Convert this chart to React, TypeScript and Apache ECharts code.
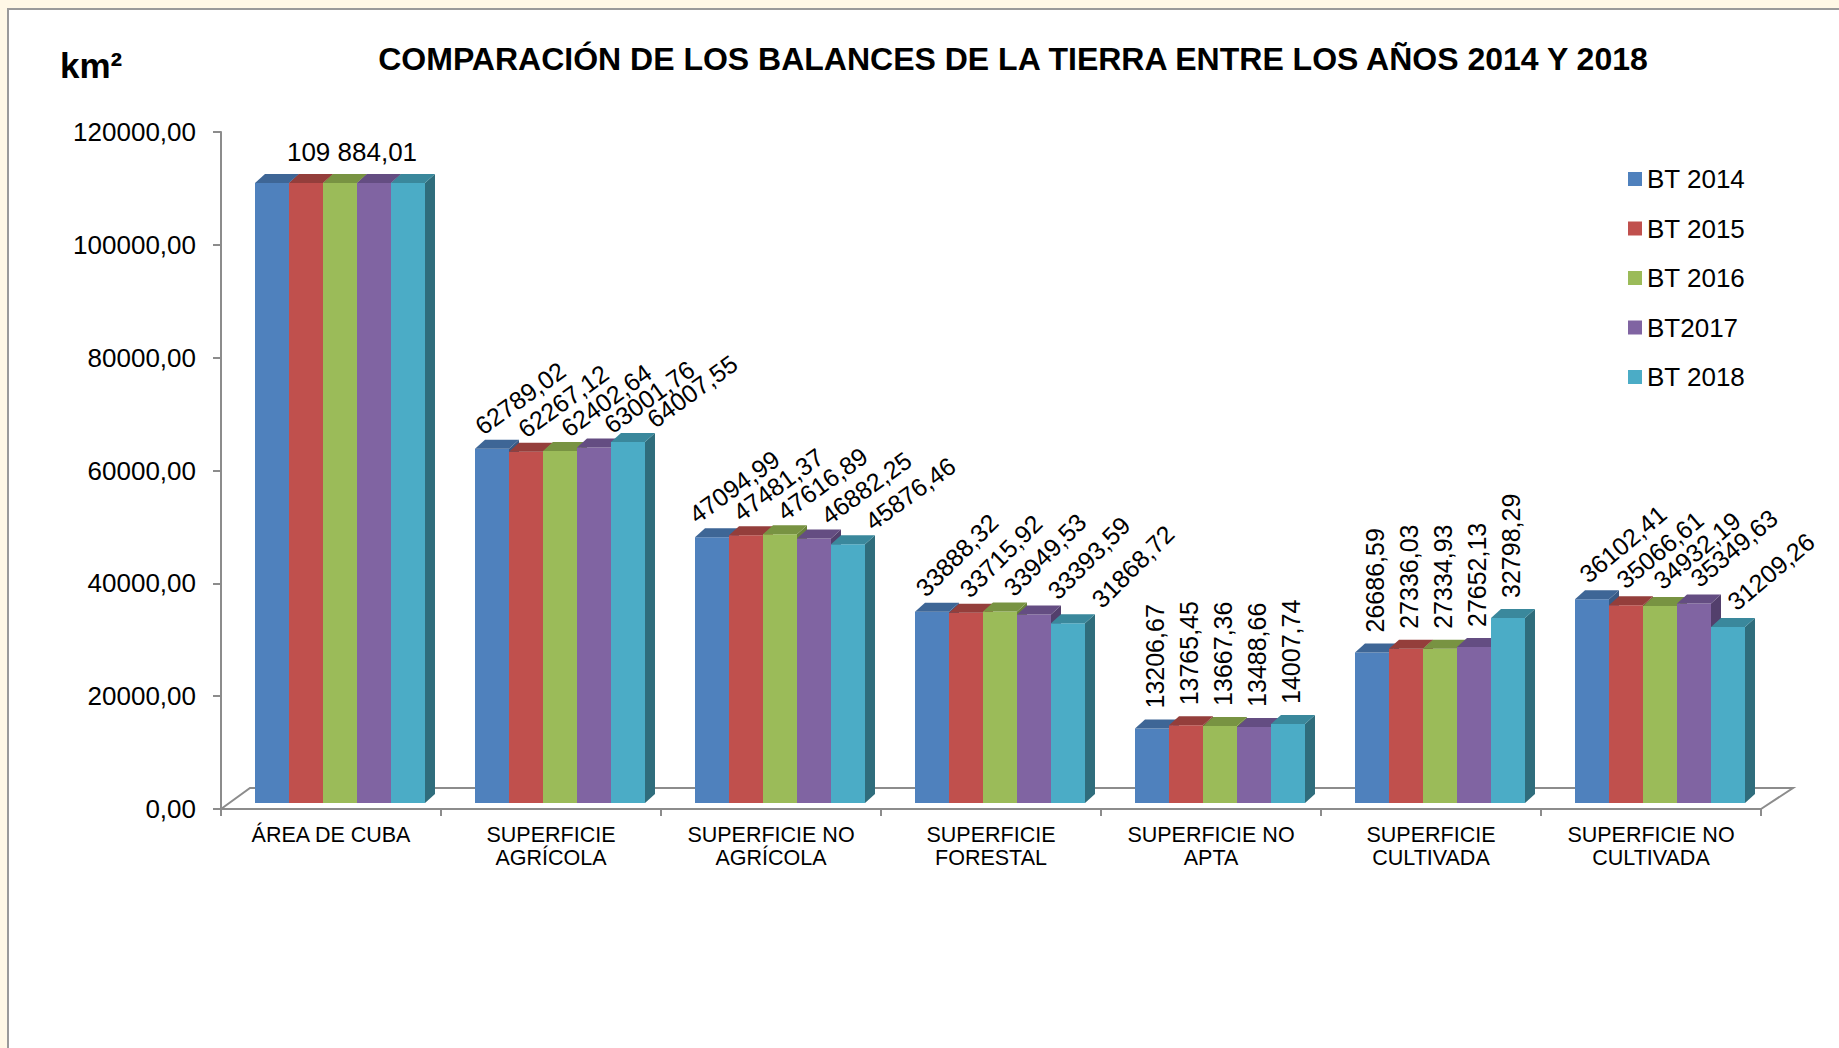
import React, { useEffect, useRef } from 'react';
import * as echarts from 'echarts';

const categories = [
  'ÁREA DE CUBA',
  'SUPERFICIE\nAGRÍCOLA',
  'SUPERFICIE NO\nAGRÍCOLA',
  'SUPERFICIE\nFORESTAL',
  'SUPERFICIE NO\nAPTA',
  'SUPERFICIE\nCULTIVADA',
  'SUPERFICIE NO\nCULTIVADA',
];
const seriesNames = ['BT 2014', 'BT 2015', 'BT 2016', 'BT2017', 'BT 2018'];
const bt2014 = [109884.01, 62789.02, 47094.99, 33888.32, 13206.67, 26686.59, 36102.41];
const bt2015 = [109884.01, 62267.12, 47481.37, 33715.92, 13765.45, 27336.03, 35066.61];
const bt2016 = [109884.01, 62402.64, 47616.89, 33949.53, 13667.36, 27334.93, 34932.19];
const bt2017 = [109884.01, 63001.76, 46882.25, 33393.59, 13488.66, 27652.13, 35349.63];
const bt2018 = [109884.01, 64007.55, 45876.46, 31868.72, 14007.74, 32798.29, 31209.26];
const seriesValues = [bt2014, bt2015, bt2016, bt2017, bt2018];
const areaLabel = '109 884,01';
const yMin = 0;
const yMax = 120000;
const yInterval = 20000;
const labelRotation = [0, 36, 36, 45, 90, 90, 40];
const labelSpread = [0, 9, 10, 10, 0, 0, 3];
const labelShift = [0, 4, 0, 8, 3, 3, -3];
const labelLift = [0, 20, 20, 20, 20, 20, 22];

const titleText = 'COMPARACIÓN DE LOS BALANCES DE LA TIERRA ENTRE LOS AÑOS 2014 Y 2018';
const unitText = 'km²';

const FONT = '"Liberation Sans", Arial, sans-serif';
const frontColors = ['#4F81BD', '#C0504D', '#9BBB59', '#8064A2', '#4BACC6'];
const topColors = ['#3E6696', '#943E3B', '#789342', '#644D82', '#3A889C'];
const sideColors = ['#385A85', '#843532', '#6A8339', '#533F6C', '#2F6D7C'];

const fmt = (v: number) => v.toFixed(2).replace('.', ',');

function makeRender(s: number) {
  return (params: any, api: any) => {
    const cat = api.value(0);
    const v = api.value(1);
    const base = api.coord([cat, 0]);
    const topPt = api.coord([cat, v]);
    const band = api.size([1, 0])[0];
    const barW = (band * 34) / 220;
    const shift = (band * 9) / 220;
    const lift = 6;
    const dx = 10;
    const dy = 9;
    const x0 = base[0] + shift - barW * 2.5 + s * barW;
    const x1 = x0 + barW;
    const yb = base[1] - lift;
    const yt = topPt[1] - lift;
    const children: any[] = [
      {
        type: 'polygon',
        shape: { points: [[x1, yb], [x1, yt], [x1 + dx, yt - dy], [x1 + dx, yb - dy]] },
        style: { fill: sideColors[s] },
      },
      {
        type: 'rect',
        shape: { x: x0, y: yt, width: barW, height: yb - yt },
        style: { fill: frontColors[s] },
      },
      {
        type: 'polygon',
        shape: { points: [[x0, yt], [x1, yt], [x1 + dx, yt - dy], [x0 + dx, yt - dy]] },
        style: { fill: topColors[s] },
      },
    ];
    const cx = x0 + barW / 2;
    const rot = labelRotation[cat];
    if (cat === 0) {
      if (s === 2) {
        children.push({
          type: 'text',
          x: cx + 12,
          y: yt - 31,
          z2: 100,
          style: { fontSize: 26, fontFamily: FONT, fill: '#000', text: areaLabel, align: 'center', verticalAlign: 'middle' },
        });
      }
    } else {
      const ax = cx + labelShift[cat] + (s - 2) * labelSpread[cat];
      const ay = yt - labelLift[cat];
      children.push({
        type: 'text',
        x: ax,
        y: ay,
        rotation: (rot * Math.PI) / 180,
        z2: 100,
        style: { fontSize: 25, fontFamily: FONT, fill: '#000', text: fmt(v), align: 'left', verticalAlign: 'middle' },
      });
    }
    return { type: 'group', children };
  };
}

function floorRender(params: any) {
  const cs = params.coordSys;
  const left = cs.x;
  const right = cs.x + cs.width;
  const bottom = cs.y + cs.height;
  return {
    type: 'polyline',
    shape: {
      points: [
        [left, bottom],
        [left + 29, bottom - 21],
        [right + 32, bottom - 21],
        [right, bottom],
      ],
    },
    style: { stroke: '#8c8c8c', lineWidth: 2, fill: 'none' },
  };
}

export default function App() {
  const ref = useRef<HTMLDivElement>(null);
  useEffect(() => {
    if (!ref.current) return;
    const chart = echarts.init(ref.current, undefined, { renderer: 'svg' });
    const barSeries = seriesNames.map((name, s) => ({
      name,
      type: 'custom',
      z: 3,
      itemStyle: { color: frontColors[s] },
      renderItem: makeRender(s),
      encode: { x: 0, y: 1 },
      data: seriesValues[s].map((v, i) => [i, v]),
    }));
    chart.setOption({
      animation: false,
      backgroundColor: '#FFF8E6',
      color: frontColors,
      graphic: [
        {
          type: 'rect',
          z: -10,
          shape: { x: 8, y: 9, width: 1900, height: 1100 },
          style: { fill: '#ffffff', stroke: '#9a9a9a', lineWidth: 2 },
        },
        {
          type: 'text',
          x: 1013,
          y: 59,
          style: {
            text: titleText,
            fontSize: 32,
            fontWeight: 'bold',
            fontFamily: FONT,
            fill: '#000',
            align: 'center',
            verticalAlign: 'middle',
          },
        },
        {
          type: 'text',
          x: 60,
          y: 65,
          style: {
            text: unitText,
            fontSize: 35,
            fontWeight: 'bold',
            fontFamily: FONT,
            fill: '#000',
            align: 'left',
            verticalAlign: 'middle',
          },
        },
      ],
      legend: {
        orient: 'vertical',
        left: 1623,
        top: 161,
        itemWidth: 14,
        itemHeight: 14,
        itemGap: 23.5,
        icon: 'rect',
        data: seriesNames,
        textStyle: { fontSize: 26, lineHeight: 26, fontFamily: FONT, color: '#000' },
      },
      grid: { left: 221, top: 132, width: 1540, height: 677, containLabel: false, outerBoundsMode: 'none' },
      xAxis: {
        type: 'category',
        data: categories,
        boundaryGap: true,
        axisLine: { lineStyle: { color: '#8c8c8c', width: 2 } },
        axisTick: { show: true, length: 7, lineStyle: { color: '#8c8c8c', width: 2 } },
        axisLabel: { fontSize: 21.5, lineHeight: 23, margin: 14, color: '#000', fontFamily: FONT, interval: 0 },
      },
      yAxis: {
        type: 'value',
        min: yMin,
        max: yMax,
        interval: yInterval,
        splitLine: { show: false },
        axisLine: { show: true, lineStyle: { color: '#8c8c8c', width: 2 } },
        axisTick: { show: true, length: 8, lineStyle: { color: '#8c8c8c', width: 2 } },
        axisLabel: {
          fontSize: 26,
          margin: 25,
          color: '#000',
          fontFamily: FONT,
          formatter: (v: number) => fmt(v),
        },
      },
      series: [
        {
          name: 'floor',
          type: 'custom',
          z: 1,
          silent: true,
          renderItem: floorRender,
          data: [[0, 0]],
        },
        ...barSeries,
      ],
    });
    return () => chart.dispose();
  }, []);
  return (
    <div
      ref={ref}
      style={{ position: 'fixed', left: 0, top: 0, width: 1839, height: 1048 }}
    />
  );
}
